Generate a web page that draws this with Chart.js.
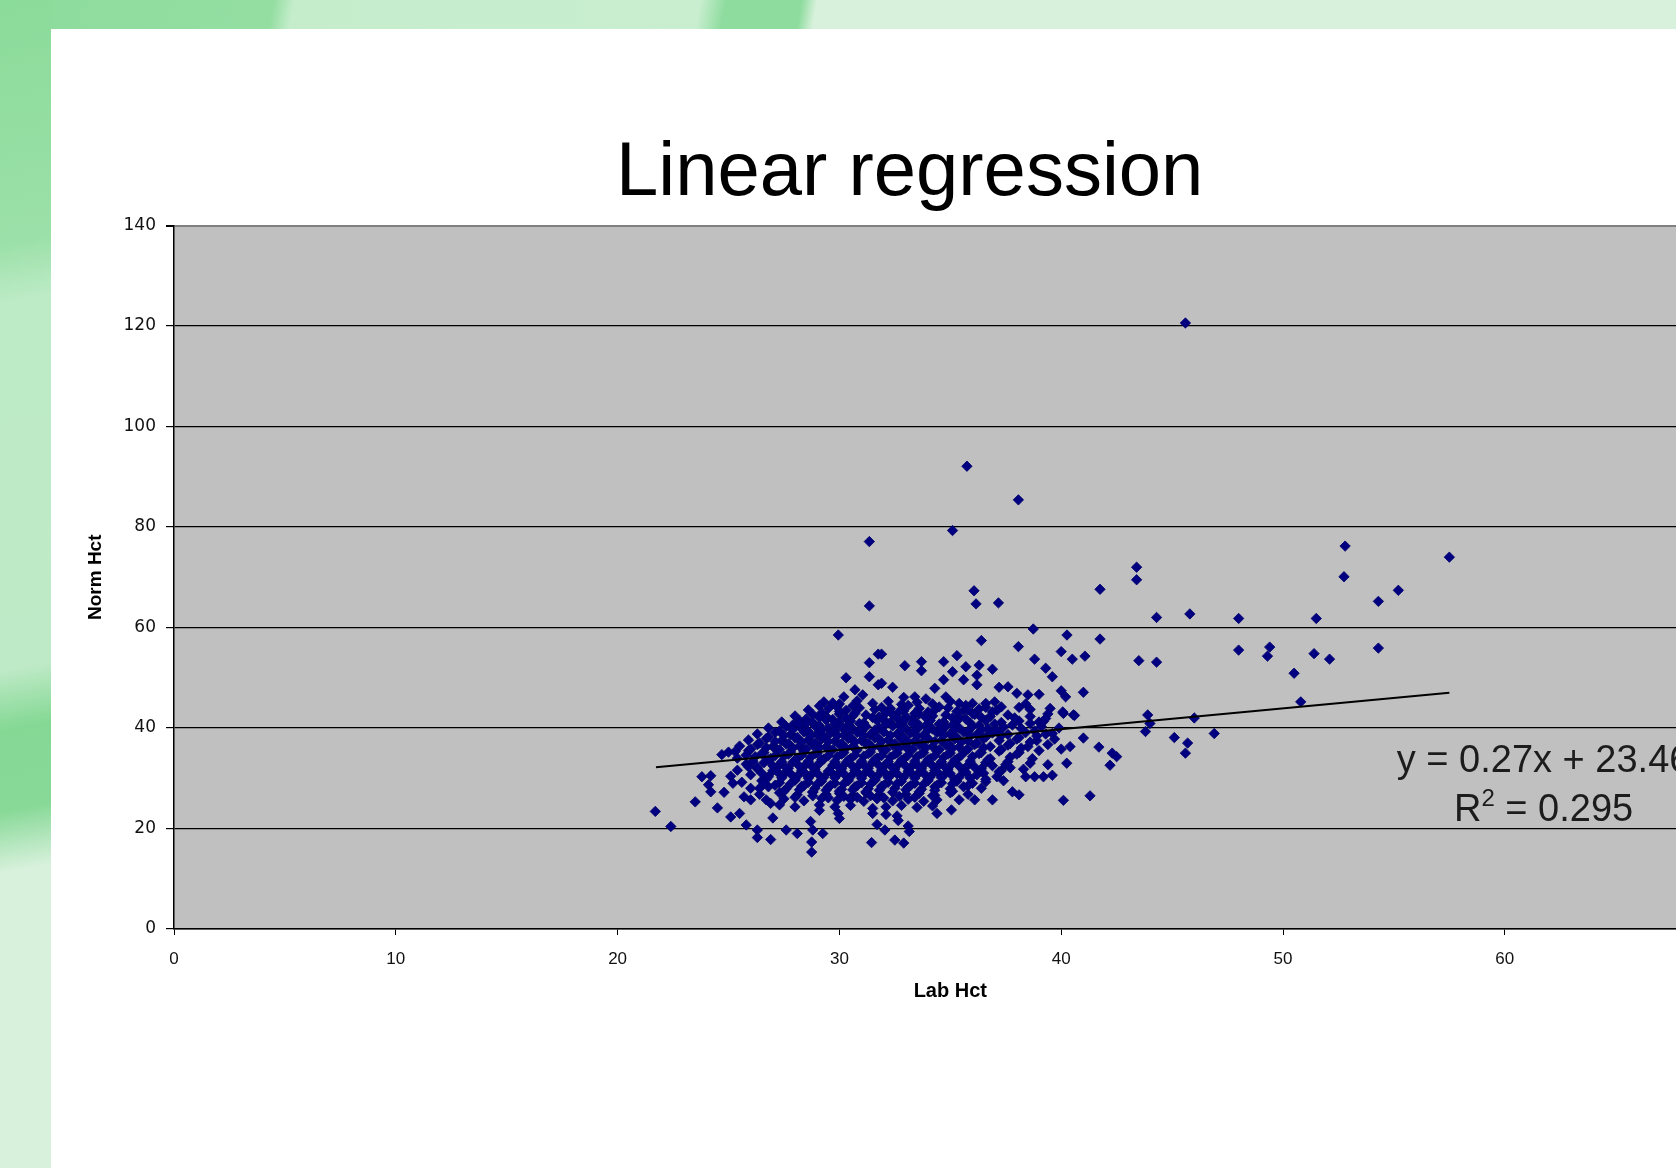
<!DOCTYPE html>
<html>
<head>
<meta charset="utf-8">
<title>Linear regression</title>
<script src="https://cdn.jsdelivr.net/npm/chart.js@4.4.1/dist/chart.umd.min.js"></script>
<style>
  html, body { margin: 0; padding: 0; }
  body { width: 1676px; height: 1168px; overflow: hidden; position: relative; background: #d8f1dc; }
  .strip-top {
    position: absolute; left: 0; top: 0; width: 1676px; height: 29px;
    background: linear-gradient(100deg, #8ddc9c 0, #94dea2 270px, #c5edcc 290px, #c8eecf 690px, #8fdc9f 715px, #8fdc9f 790px, #d8f1dc 805px, #d8f1dc 100%);
  }
  .strip-left {
    position: absolute; left: 0; top: 0; width: 51px; height: 1168px;
    background: linear-gradient(170deg, #8bdb9a 0, #9be0a8 240px, #bdebc6 300px, #bfeac7 660px, #84d894 720px, #88d998 800px, #d8f1dc 860px, #d8f1dc 100%);
  }
  .panel { position: absolute; left: 51px; top: 29px; width: 1760px; height: 1139px; background: #fff; }
</style>
</head>
<body>
<div class="strip-top"></div>
<div class="strip-left"></div>
<div class="panel"><canvas id="chart" width="1760" height="1139"></canvas></div>
<script>
// Lab Hct (x) vs Norm Hct (y) as [x, y]
const outliers = [
  [45.6, 120.6], [35.75, 92.1], [38.07, 85.4], [35.1, 79.3], [31.35, 77.1],
  [31.35, 64.3], [36.07, 67.3], [36.16, 64.7], [37.17, 64.9], [29.95, 58.5],
];

const rightTail = [
  [43.4, 72.0], [43.4, 69.5], [41.75, 67.6], [44.3, 62.0], [45.8, 62.7], [48.0, 61.8],
  [51.5, 61.8], [52.8, 76.2], [57.5, 74.0], [52.75, 70.1], [55.2, 67.4], [54.3, 65.2],
  [43.5, 53.4], [44.3, 53.1], [48.0, 55.5], [49.4, 56.1], [49.3, 54.3], [51.4, 54.8],
  [52.1, 53.7], [54.3, 55.9], [50.5, 50.9], [50.8, 45.2], [41.0, 47.1], [43.9, 42.6],
  [44.0, 40.9], [46.0, 42.0], [43.8, 39.3], [45.1, 38.1], [45.7, 37.0], [45.6, 35.0],
  [46.9, 38.9], [41.0, 38.0], [41.7, 36.2], [42.3, 35.0], [42.5, 34.3], [42.2, 32.6],
  [40.26, 58.5], [41.75, 57.7], [38.74, 59.7], [41.07, 54.3], [40.5, 53.7], [40.0, 55.2],
];

const upperCloud = [
  [31.75, 54.7], [31.35, 53.0], [30.3, 50.0], [31.35, 50.2], [31.75, 48.6], [30.7, 47.6],
  [31.05, 46.6], [30.2, 46.2], [29.1, 44.4], [29.9, 44.2], [29.7, 45.0], [28.15, 40.9],
  [32.95, 52.4], [33.7, 53.2], [33.7, 51.4], [34.7, 53.2], [35.3, 54.4], [35.7, 52.2],
  [36.3, 52.5], [36.9, 51.7], [35.1, 51.2], [34.7, 49.6], [35.6, 49.6], [36.2, 50.5],
  [36.2, 48.6], [34.3, 47.9], [32.4, 48.1], [31.9, 48.9], [32.9, 46.1], [33.4, 46.2],
  [33.9, 45.8], [34.8, 46.2], [37.2, 48.1], [37.6, 48.2], [38.0, 46.9], [38.5, 46.6],
  [39.0, 46.7], [40.0, 47.4], [40.2, 46.2], [40.07, 43.2], [40.6, 42.5], [35.4, 44.9],
  [35.8, 43.6], [36.6, 44.9], [37.3, 44.2], [38.1, 44.1], [39.3, 41.9], [36.4, 57.4],
  [38.07, 56.2], [38.8, 53.7], [39.3, 51.9], [39.6, 50.2], [31.9, 54.7],
];

const lowerFringe = [
  [21.7, 23.4], [22.4, 20.4], [23.5, 25.3], [23.8, 30.3], [24.2, 30.5], [24.1, 28.7],
  [24.2, 27.3], [24.7, 34.7], [25.3, 35.3], [24.5, 24.1], [25.1, 22.3], [24.8, 27.2],
  [25.2, 29.0], [25.5, 23.0], [25.8, 20.7], [25.7, 26.3], [26.3, 19.7], [26.3, 18.2],
  [26.9, 17.8], [27.0, 22.1], [26.0, 25.7], [26.4, 28.0], [25.9, 32.3], [26.6, 29.0],
  [26.9, 25.0], [27.6, 19.7], [28.1, 19.0], [28.7, 21.4], [28.8, 19.7], [28.75, 17.3],
  [28.75, 15.3], [29.25, 19.0], [29.95, 23.0], [30.0, 22.0], [29.1, 23.6], [31.45, 17.2],
  [31.7, 20.8], [32.05, 19.7], [31.5, 23.0], [32.1, 22.8], [32.5, 17.7], [32.9, 17.1],
  [32.6, 22.5], [32.65, 21.6], [33.1, 20.5], [33.15, 19.4], [34.4, 23.0], [35.05, 23.7],
  [39.2, 41.3], [39.6, 38.9], [40.1, 42.9], [40.55, 42.6], [40.25, 33.0], [40.0, 35.8],
  [40.4, 36.3], [40.1, 25.6], [41.3, 26.5], [37.8, 27.3], [38.1, 26.7],
];

const coreCloud = [
  [29.3, 45.2], [30.0, 44.8], [30.8, 45.4], [31.5, 44.9], [32.2, 45.3], [32.8, 44.7], [33.5, 45.1],
  [34.2, 44.8], [35.0, 45.3], [36.0, 44.9], [37.0, 45.2], [38.4, 44.8],
  [28.6, 43.6], [29.5, 43.9], [30.3, 43.5], [30.9, 44.0], [31.6, 43.7], [32.3, 43.9], [32.9, 43.4],
  [33.6, 43.9], [34.3, 43.6], [34.9, 44.0], [35.6, 43.5], [36.3, 43.8], [37.1, 43.5], [38.6, 43.7],
  [39.5, 43.9],
  [28.0, 42.4], [28.8, 42.7], [29.4, 42.3], [30.0, 42.8], [30.6, 42.4], [31.2, 42.6], [31.8, 42.2],
  [32.4, 42.7], [33.0, 42.3], [33.6, 42.8], [34.2, 42.4], [34.8, 42.6], [35.4, 42.2], [36.1, 42.7],
  [36.8, 42.3], [37.6, 42.6], [38.6, 42.3], [39.4, 42.8],
  [27.4, 41.2], [28.2, 41.5], [28.8, 41.1], [29.4, 41.6], [30.0, 41.2], [30.5, 41.4], [31.1, 41.0],
  [31.7, 41.5], [32.3, 41.1], [32.9, 41.4], [33.5, 41.0], [34.1, 41.5], [34.7, 41.2], [35.3, 41.4],
  [35.9, 41.0], [36.6, 41.5], [37.3, 41.1], [38.1, 41.4], [39.0, 41.2],
  [26.8, 40.0], [27.6, 40.3], [28.3, 39.9], [28.9, 40.4], [29.5, 40.0], [30.1, 40.2], [30.6, 39.8],
  [31.2, 40.3], [31.8, 40.0], [32.4, 40.4], [33.0, 39.9], [33.6, 40.2], [34.2, 39.8], [34.8, 40.3],
  [35.4, 40.0], [36.0, 40.3], [36.7, 39.9], [37.4, 40.2], [38.2, 39.9], [39.1, 40.3], [39.9, 40.0],
  [26.3, 38.8], [27.1, 39.1], [27.8, 38.7], [28.4, 39.2], [29.0, 38.8], [29.6, 39.0], [30.2, 38.6],
  [30.8, 39.1], [31.4, 38.7], [32.0, 39.2], [32.6, 38.8], [33.2, 39.0], [33.8, 38.6], [34.4, 39.1],
  [35.0, 38.8], [35.6, 39.2], [36.2, 38.7], [36.9, 39.0], [37.6, 38.7], [38.4, 39.1], [39.3, 38.8],
  [25.9, 37.6], [26.7, 37.9], [27.4, 37.5], [28.0, 38.0], [28.6, 37.6], [29.2, 37.8], [29.8, 37.4],
  [30.4, 37.9], [31.0, 37.5], [31.6, 38.0], [32.2, 37.6], [32.8, 37.8], [33.4, 37.4], [34.0, 37.9],
  [34.6, 37.5], [35.2, 37.8], [35.8, 37.4], [36.5, 37.9], [37.2, 37.5], [38.0, 37.8], [38.9, 37.5],
  [39.7, 37.8],
  [25.5, 36.4], [26.3, 36.7], [27.0, 36.3], [27.6, 36.8], [28.2, 36.4], [28.8, 36.6], [29.4, 36.2],
  [30.0, 36.7], [30.6, 36.3], [31.2, 36.8], [31.8, 36.4], [32.4, 36.6], [33.0, 36.2], [33.6, 36.7],
  [34.2, 36.3], [34.8, 36.6], [35.4, 36.2], [36.1, 36.7], [36.8, 36.3], [37.6, 36.6], [38.5, 36.3],
  [39.4, 36.7],
  [25.0, 35.2], [25.9, 35.5], [26.6, 35.1], [27.2, 35.6], [27.8, 35.2], [28.4, 35.4], [29.0, 35.0],
  [29.6, 35.5], [30.2, 35.1], [30.8, 35.6], [31.4, 35.2], [32.0, 35.4], [32.6, 35.0], [33.2, 35.5],
  [33.8, 35.1], [34.4, 35.4], [35.0, 35.0], [35.7, 35.5], [36.4, 35.1], [37.2, 35.4], [38.1, 35.1],
  [39.0, 35.5],
  [25.4, 34.0], [26.2, 34.3], [26.9, 33.9], [27.5, 34.4], [28.1, 34.0], [28.7, 34.2], [29.3, 33.8],
  [29.9, 34.3], [30.5, 33.9], [31.1, 34.4], [31.7, 34.0], [32.3, 34.2], [32.9, 33.8], [33.5, 34.3],
  [34.1, 33.9], [34.7, 34.2], [35.3, 33.8], [36.0, 34.3], [36.8, 33.9], [37.7, 34.2], [38.7, 33.9],
  [25.8, 32.8], [26.6, 33.1], [27.3, 32.7], [27.9, 33.2], [28.5, 32.8], [29.1, 33.0], [29.7, 32.6],
  [30.3, 33.1], [30.9, 32.7], [31.5, 33.2], [32.1, 32.8], [32.7, 33.0], [33.3, 32.6], [33.9, 33.1],
  [34.5, 32.7], [35.1, 33.0], [35.8, 32.6], [36.6, 33.1], [37.5, 32.7], [38.6, 33.0], [39.4, 32.7],
  [25.4, 31.6], [26.3, 31.9], [27.0, 31.5], [27.7, 32.0], [28.3, 31.6], [28.9, 31.8], [29.5, 31.4],
  [30.1, 31.9], [30.7, 31.5], [31.3, 32.0], [31.9, 31.6], [32.5, 31.8], [33.1, 31.4], [33.7, 31.9],
  [34.3, 31.5], [34.9, 31.8], [35.6, 31.4], [36.4, 31.9], [37.3, 31.5], [38.3, 31.8],
  [25.1, 30.4], [26.0, 30.7], [26.8, 30.3], [27.5, 30.8], [28.1, 30.4], [28.7, 30.6], [29.3, 30.2],
  [29.9, 30.7], [30.5, 30.3], [31.1, 30.8], [31.7, 30.4], [32.3, 30.6], [32.9, 30.2], [33.5, 30.7],
  [34.1, 30.3], [34.7, 30.6], [35.4, 30.2], [36.2, 30.7], [37.1, 30.3], [38.4, 30.3], [38.8, 30.3],
  [39.2, 30.3], [39.6, 30.6],
  [25.6, 29.2], [26.5, 29.5], [27.3, 29.1], [28.0, 29.6], [28.6, 29.2], [29.2, 29.4], [29.8, 29.0],
  [30.4, 29.5], [31.0, 29.1], [31.6, 29.6], [32.2, 29.2], [32.8, 29.4], [33.4, 29.0], [34.0, 29.5],
  [34.6, 29.1], [35.3, 29.4], [36.0, 29.0], [36.6, 29.3], [37.4, 29.5],
  [26.0, 28.0], [26.8, 28.3], [27.6, 27.9], [28.3, 28.4], [28.9, 28.0], [29.5, 28.2], [30.1, 27.8],
  [30.7, 28.3], [31.3, 27.9], [31.9, 28.4], [32.5, 28.0], [33.1, 28.2], [33.7, 27.8], [34.3, 28.3],
  [35.0, 27.9], [35.6, 28.3], [36.4, 28.0],
  [26.4, 26.8], [27.3, 27.1], [28.1, 26.7], [28.8, 27.2], [29.4, 26.8], [30.0, 27.0], [30.6, 26.6],
  [31.2, 27.1], [31.8, 26.7], [32.4, 27.2], [33.0, 26.8], [33.6, 27.0], [34.3, 26.6], [35.0, 27.1],
  [35.8, 26.8],
  [26.7, 25.7], [27.5, 25.9], [28.4, 25.5], [29.2, 26.0], [29.9, 25.6], [30.5, 25.8], [31.1, 25.4],
  [31.7, 25.9], [32.4, 25.5], [33.1, 25.8], [33.8, 25.4], [34.4, 25.7], [35.4, 25.7], [36.1, 25.7],
  [36.9, 25.7],
  [27.3, 24.7], [28.0, 24.3], [29.1, 24.7], [29.8, 24.3], [30.5, 24.6], [31.5, 24.0], [32.1, 24.3],
  [32.8, 24.6], [33.5, 24.2], [34.2, 24.5],
];

// the crowded middle of the cloud, between the rows above
const coreInfill = [
  [30.6, 44.4], [31.9, 44.1], [33.1, 44.5], [34.5, 44.2], [35.7, 44.5], [36.6, 44.1],
  [29.2, 43.0], [30.0, 43.3], [30.7, 42.9], [32.1, 43.0], [32.7, 43.3], [33.4, 42.9],
  [34.0, 43.2], [35.3, 43.3], [36.0, 42.9], [36.9, 43.2],
  [28.5, 41.8], [29.1, 42.1], [29.7, 41.7], [30.3, 42.0], [31.5, 42.1], [32.0, 41.7],
  [32.6, 42.0], [33.3, 41.8], [33.9, 42.1], [35.1, 42.0], [35.7, 41.8], [36.4, 42.1], [37.9, 42.0],
  [27.9, 40.6], [28.5, 40.9], [29.1, 40.5], [29.8, 40.8], [30.4, 40.6], [30.9, 40.9], [32.1, 40.8],
  [32.7, 40.6], [33.3, 40.9], [33.9, 40.5], [34.5, 40.8], [35.1, 40.6], [36.3, 40.5],
  [37.0, 40.8], [37.8, 40.6], [38.6, 40.9],
  [27.3, 39.4], [27.9, 39.7], [28.6, 39.3], [29.2, 39.6], [29.8, 39.4], [30.4, 39.7], [31.0, 39.3],
  [31.6, 39.6], [32.8, 39.7], [33.4, 39.3], [34.0, 39.6], [34.6, 39.4], [35.2, 39.7],
  [35.8, 39.3], [36.4, 39.6], [37.1, 39.4], [38.8, 39.4],
  [26.8, 38.2], [27.5, 38.5], [28.1, 38.1], [28.7, 38.4], [29.3, 38.2], [29.9, 38.5], [30.5, 38.1],
  [31.1, 38.4], [31.7, 38.2], [32.3, 38.5], [32.9, 38.1], [33.5, 38.4], [34.7, 38.5],
  [35.3, 38.1], [35.9, 38.4], [36.6, 38.2], [37.3, 38.5], [38.1, 38.1], [38.9, 38.4],
  [26.4, 37.0], [27.1, 37.3], [27.7, 36.9], [28.3, 37.2], [28.9, 37.0], [29.5, 37.3], [30.1, 36.9],
  [30.7, 37.2], [31.3, 37.0], [31.9, 37.3], [32.5, 36.9], [33.1, 37.2], [33.7, 37.0], [34.3, 37.3],
  [34.9, 36.9], [35.5, 37.2], [36.2, 37.0], [37.7, 36.9], [38.6, 37.2],
  [26.0, 35.8], [26.7, 36.1], [27.3, 35.7], [27.9, 36.0], [28.5, 35.8], [29.1, 36.1], [29.7, 35.7],
  [30.3, 36.0], [31.5, 36.1], [32.1, 35.7], [32.7, 36.0], [33.3, 35.8], [33.9, 36.1],
  [34.5, 35.7], [35.1, 36.0], [35.8, 35.8], [36.5, 36.1], [37.3, 35.7], [38.2, 36.0],
  [25.8, 34.6], [26.5, 34.9], [27.1, 34.5], [27.7, 34.8], [28.3, 34.6], [28.9, 34.9], [29.5, 34.5],
  [30.1, 34.8], [30.7, 34.6], [31.3, 34.9], [31.9, 34.5], [32.5, 34.8], [33.1, 34.6], [33.7, 34.9],
  [34.3, 34.5], [34.9, 34.8], [35.5, 34.6], [36.3, 34.9], [38.0, 34.8],
  [26.1, 33.4], [26.8, 33.7], [27.4, 33.3], [28.0, 33.6], [28.6, 33.4], [29.2, 33.7], [29.8, 33.3],
  [30.4, 33.6], [31.0, 33.4], [31.6, 33.7], [32.2, 33.3], [32.8, 33.6], [33.4, 33.4], [34.0, 33.7],
  [34.6, 33.3], [35.2, 33.6], [35.9, 33.4], [36.7, 33.7], [37.6, 33.3],
  [26.3, 32.2], [27.0, 32.5], [27.6, 32.1], [28.2, 32.4], [28.8, 32.2], [30.0, 32.1],
  [30.6, 32.4], [31.2, 32.2], [31.8, 32.5], [32.4, 32.1], [33.0, 32.4], [33.6, 32.2], [34.2, 32.5],
  [34.8, 32.1], [35.4, 32.4], [36.1, 32.2], [36.9, 32.5], [37.7, 32.1],
  [26.5, 31.0], [27.2, 31.3], [27.8, 30.9], [28.4, 31.2], [29.0, 31.0], [29.6, 31.3], [30.2, 30.9],
  [30.8, 31.2], [31.4, 31.0], [32.0, 31.3], [32.6, 30.9], [33.2, 31.2], [33.8, 31.0], [34.4, 31.3],
  [35.0, 30.9], [35.7, 31.2], [36.5, 31.0], [37.2, 31.3],
  [26.7, 29.8], [27.4, 30.1], [28.0, 29.7], [28.6, 30.0], [29.2, 29.8], [29.8, 30.1], [30.4, 29.7],
  [31.0, 30.0], [31.6, 29.8], [32.2, 30.1], [33.4, 30.0], [34.0, 29.8], [34.6, 30.1],
  [35.2, 29.7], [35.9, 30.0], [36.6, 29.8],
  [27.1, 28.6], [27.8, 28.9], [28.4, 28.5], [29.0, 28.8], [29.6, 28.6], [30.2, 28.9], [30.8, 28.5],
  [31.4, 28.8], [32.0, 28.6], [32.6, 28.9], [33.2, 28.5], [33.8, 28.8], [34.4, 28.6], [35.1, 28.9],
  [35.8, 28.5],
  [27.5, 27.4], [28.2, 27.7], [28.8, 27.3], [29.4, 27.6], [30.0, 27.4], [30.6, 27.7], [31.2, 27.3],
  [31.8, 27.6], [33.0, 27.7], [33.6, 27.3], [34.3, 27.6], [35.1, 27.4],
  [28.0, 26.2], [28.8, 26.5], [29.5, 26.1], [30.2, 26.4], [30.8, 26.2], [31.4, 26.5], [32.0, 26.1],
  [32.7, 26.4], [33.4, 26.2], [34.2, 26.5],
];

// fitted trend line as drawn, endpoints
const trendLine = [[21.73, 32.2], [57.5, 47.0]];

const xTickValues = [0, 10, 20, 30, 40, 50, 60, 70];
const yTickValues = [0, 20, 40, 60, 80, 100, 120, 140];

const equationText = 'y = 0.27x + 23.46';
const r2Value = '0.295';
const labelAnchor = { x: 61.75, eqY: 31.2, r2Y: 21.5 };

const toPoints = (pairs) => pairs.map(([x, y]) => ({ x, y }));

const allPoints = [...coreCloud, ...coreInfill, ...lowerFringe, ...upperCloud, ...rightTail, ...outliers];

const plotBackground = {
  id: 'plotBackground',
  beforeDraw(chart) {
    const { ctx, chartArea: a } = chart;
    ctx.save();
    ctx.fillStyle = '#c0c0c0';
    ctx.fillRect(a.left, a.top, a.right - a.left, a.bottom - a.top);
    ctx.restore();
  },
};

const trendLabel = {
  id: 'trendLabel',
  afterDatasetsDraw(chart) {
    const { ctx, scales: { x, y } } = chart;
    const cx = x.getPixelForValue(labelAnchor.x);
    const big = '38px "Liberation Sans", Arial, sans-serif';
    const small = '24px "Liberation Sans", Arial, sans-serif';
    ctx.save();
    ctx.fillStyle = '#1c1c1c';
    ctx.textBaseline = 'alphabetic';
    ctx.textAlign = 'center';
    ctx.font = big;
    ctx.fillText(equationText, cx, y.getPixelForValue(labelAnchor.eqY));

    const rest = ' = ' + r2Value;
    const wR = ctx.measureText('R').width;
    const wRest = ctx.measureText(rest).width;
    ctx.font = small;
    const w2 = ctx.measureText('2').width;
    const base = y.getPixelForValue(labelAnchor.r2Y);
    const left = cx - (wR + w2 + wRest) / 2;
    ctx.textAlign = 'left';
    ctx.font = big;
    ctx.fillText('R', left, base);
    ctx.font = small;
    ctx.fillText('2', left + wR, base - 15);
    ctx.font = big;
    ctx.fillText(rest, left + wR + w2, base);
    ctx.restore();
  },
};

new Chart(document.getElementById('chart'), {
  type: 'scatter',
  data: {
    datasets: [
      {
        label: 'Trend',
        data: toPoints(trendLine),
        showLine: true,
        borderColor: '#000',
        borderWidth: 2,
        pointRadius: 0,
        order: 0,
      },
      {
        label: 'Norm Hct',
        data: toPoints(allPoints),
        pointStyle: 'rectRot',
        pointRadius: 5.2,
        backgroundColor: '#000080',
        borderColor: '#00006a',
        borderWidth: 0.8,
        order: 1,
      },
    ],
  },
  plugins: [plotBackground, trendLabel],
  options: {
    responsive: false,
    animation: false,
    devicePixelRatio: 1,
    layout: { padding: { left: 41.8, right: 84.4, top: 0, bottom: 159 } },
    plugins: {
      legend: { display: false },
      tooltip: { enabled: false },
      title: {
        display: true,
        text: 'Linear regression',
        color: '#000',
        font: { family: '"Liberation Sans", Arial, sans-serif', size: 76, weight: 'normal', lineHeight: 1.2 },
        padding: { top: 99.8, bottom: 5.5 },
      },
    },
    scales: {
      x: {
        type: 'linear',
        min: 0,
        max: 70,
        afterBuildTicks: (scale) => { scale.ticks = xTickValues.map((v) => ({ value: v })); },
        afterFit: (scale) => { scale.height = 80; },
        border: { color: '#000', width: 1.5 },
        grid: { drawOnChartArea: false, color: '#000', tickLength: 6 },
        ticks: {
          color: '#111',
          padding: 14,
          font: { family: '"Liberation Sans", Arial, sans-serif', size: 17 },
        },
        title: {
          display: true,
          text: 'Lab Hct',
          color: '#000',
          font: { family: '"Liberation Sans Narrow", "Liberation Sans", Arial, sans-serif', size: 20, weight: 'bold', lineHeight: 1.2 },
          padding: { top: 0, bottom: 5.2 },
        },
      },
      y: {
        type: 'linear',
        min: 0,
        max: 140,
        afterBuildTicks: (scale) => { scale.ticks = yTickValues.map((v) => ({ value: v })); },
        afterFit: (scale) => { scale.width = 81.2; },
        border: { color: '#000', width: 1.5 },
        grid: {
          color: (c) => (c.tick && c.tick.value === 140 ? '#808080' : '#000'),
          tickColor: '#000',
          lineWidth: (c) => (c.tick && c.tick.value === 140 ? 2 : 1.2),
          tickLength: 8,
        },
        ticks: {
          color: '#111',
          padding: 10,
          font: { family: '"DejaVu Sans", sans-serif', size: 17 },
        },
        title: {
          display: true,
          text: 'Norm Hct',
          color: '#000',
          font: { family: '"Liberation Sans Narrow", "Liberation Sans", Arial, sans-serif', size: 19, weight: 'bold', lineHeight: 1.2 },
          padding: { top: -8, bottom: 0 },
        },
      },
    },
  },
});
</script>
</body>
</html>
